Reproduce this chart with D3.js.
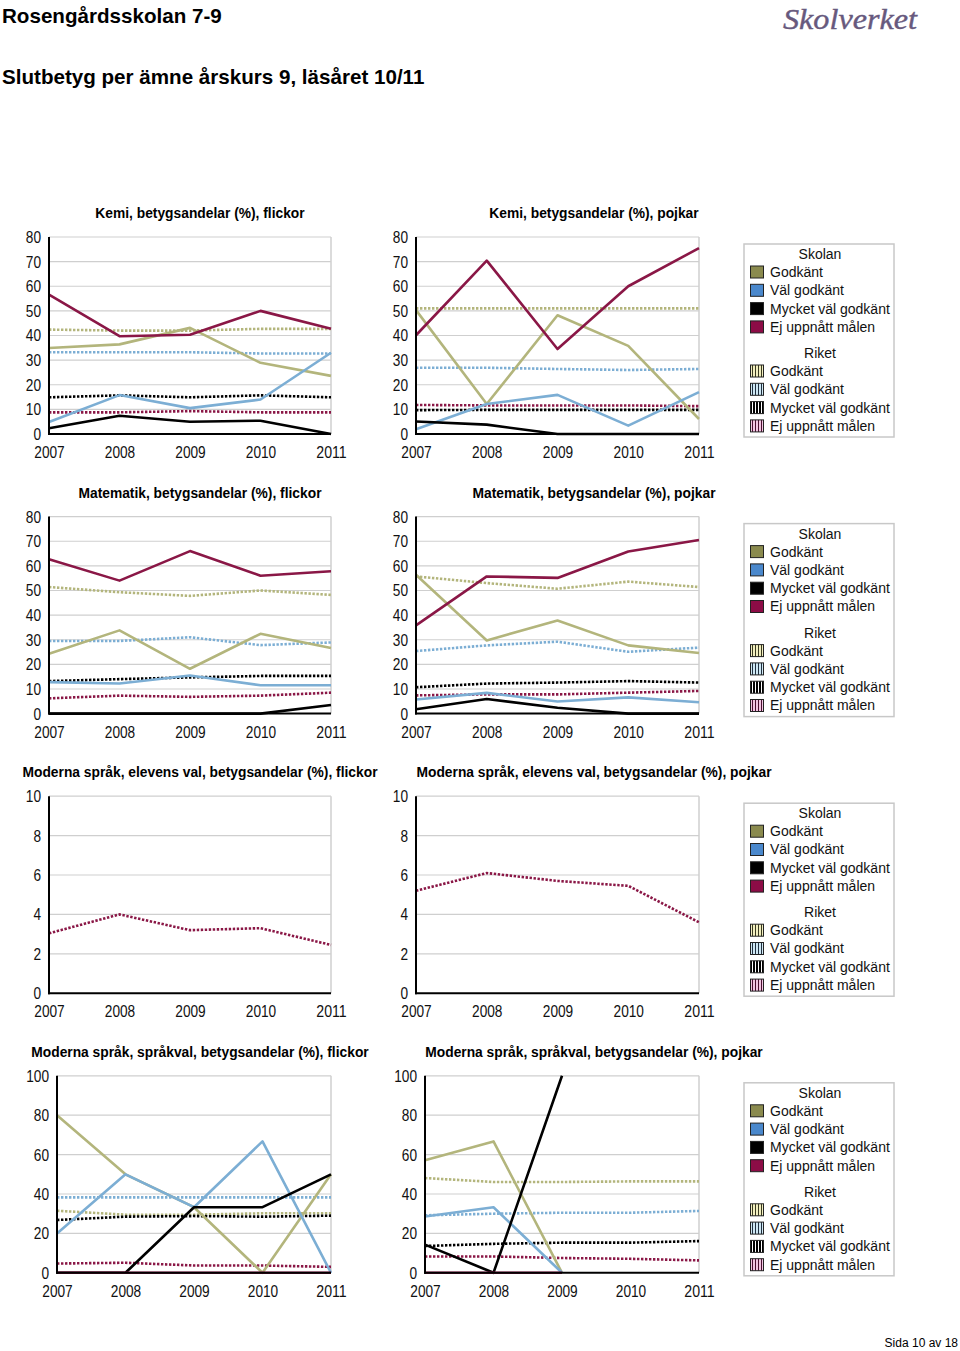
<!DOCTYPE html>
<html><head><meta charset="utf-8">
<script src="https://cdn.jsdelivr.net/npm/d3@7"></script>
<style>body{margin:0;background:#fff} svg{display:block}</style>
</head><body>
<svg id="c" width="960" height="1351"></svg>
<script>
const years = [2007, 2008, 2009, 2010, 2011];
const gradeNames = ["Godkänt", "Väl godkänt", "Mycket väl godkänt", "Ej uppnått målen"];
const chartTitles = [
  "Kemi, betygsandelar (%), flickor",
  "Kemi, betygsandelar (%), pojkar",
  "Matematik, betygsandelar (%), flickor",
  "Matematik, betygsandelar (%), pojkar",
  "Moderna språk, elevens val, betygsandelar (%), flickor",
  "Moderna språk, elevens val, betygsandelar (%), pojkar",
  "Moderna språk, språkval, betygsandelar (%), flickor",
  "Moderna språk, språkval, betygsandelar (%), pojkar"
];
const yMaxes = [80, 80, 80, 80, 10, 10, 100, 100];
const yTickSteps = [10, 10, 10, 10, 2, 2, 20, 20];

// rows: Godkänt, Väl godkänt, Mycket väl godkänt, Ej uppnått målen
const kemiFlickorSkolan = [
  [34.9, 36.4, 43.1, 28.9, 23.6],
  [4.9, 15.8, 10.5, 14.0, 33.0],
  [2.3, 7.4, 5.0, 5.4, 0],
  [56.6, 39.7, 40.3, 50.0, 42.7]];
const kemiFlickorRiket = [
  [42.4, 42.0, 42.0, 42.7, 42.7],
  [33.2, 33.2, 33.2, 32.7, 32.7],
  [14.9, 15.7, 14.9, 15.7, 14.9],
  [8.8, 8.8, 9.3, 8.8, 8.8]];
const kemiPojkarSkolan = [
  [50.3, 12.2, 48.2, 35.8, 6.1],
  [1.9, 12.2, 15.9, 3.4, 17.0],
  [5.1, 3.8, 0, 0, 0],
  [40.1, 70.4, 34.5, 60.0, 75.5]];
const kemiPojkarRiket = [
  [51.0, 51.0, 51.0, 51.0, 51.0],
  [26.9, 26.9, 26.4, 26.0, 26.4],
  [9.7, 9.8, 9.8, 9.8, 9.8],
  [11.8, 11.6, 11.6, 11.6, 11.3]];
const matteFlickorSkolan = [
  [24.3, 33.8, 18.2, 32.4, 26.6],
  [12.8, 12.2, 15.5, 11.5, 11.5],
  [0, 0, 0, 0, 3.5],
  [62.7, 54.0, 66.0, 56.0, 57.8]];
const matteFlickorRiket = [
  [51.4, 49.3, 47.8, 50.0, 48.2],
  [29.5, 29.5, 31.0, 27.8, 28.9],
  [13.2, 14.0, 14.7, 15.3, 15.3],
  [6.2, 7.3, 6.8, 7.3, 8.5]];
const mattePojkarSkolan = [
  [56.4, 29.7, 37.8, 27.7, 24.6],
  [5.7, 8.4, 4.9, 6.6, 4.6],
  [1.8, 5.9, 2.4, 0, 0],
  [35.8, 55.7, 55.1, 65.8, 70.5]];
const mattePojkarRiket = [
  [55.7, 53.0, 50.7, 53.6, 51.4],
  [25.4, 27.7, 29.2, 25.1, 26.8],
  [10.7, 12.2, 12.6, 13.2, 12.6],
  [7.4, 7.8, 7.8, 8.5, 9.2]];
const elevensValFlickorSkolan = [
  [null, null, null, null, null],
  [null, null, null, null, null],
  [null, null, null, null, null],
  [null, null, null, null, null]];
const elevensValFlickorRiket = [
  [null, null, null, null, null],
  [null, null, null, null, null],
  [null, null, null, null, null],
  [3.04, 4.0, 3.2, 3.3, 2.45]];
const elevensValPojkarSkolan = [
  [null, null, null, null, null],
  [null, null, null, null, null],
  [null, null, null, null, null],
  [null, null, null, null, null]];
const elevensValPojkarRiket = [
  [null, null, null, null, null],
  [null, null, null, null, null],
  [null, null, null, null, null],
  [5.2, 6.1, 5.7, 5.45, 3.6]];
const sprakvalFlickorSkolan = [
  [80.0, 50.0, 33.3, 0, 50.0],
  [20.0, 50.0, 33.3, 66.7, 0],
  [0, 0, 33.3, 33.3, 50.0],
  [0, 0, 0, 0, 0]];
const sprakvalFlickorRiket = [
  [31.5, 29.5, 29.5, 30.2, 30.2],
  [38.3, 38.3, 38.3, 38.3, 38.3],
  [26.8, 28.5, 28.8, 28.5, 29.0],
  [4.7, 5.1, 3.7, 3.7, 3.0]];
const sprakvalPojkarSkolan = [
  [57.1, 66.7, 0, null, null],
  [28.6, 33.3, 0, null, null],
  [14.3, 0, 100, null, null],
  [0, 0, 0, null, null]];
const sprakvalPojkarRiket = [
  [48.1, 46.1, 46.1, 46.4, 46.4],
  [29.2, 30.0, 30.5, 30.5, 31.4],
  [13.6, 14.7, 15.3, 15.3, 16.1],
  [8.3, 8.3, 7.5, 7.1, 6.3]];

const skolanData = [kemiFlickorSkolan, kemiPojkarSkolan, matteFlickorSkolan, mattePojkarSkolan,
  elevensValFlickorSkolan, elevensValPojkarSkolan, sprakvalFlickorSkolan, sprakvalPojkarSkolan];
const riketData = [kemiFlickorRiket, kemiPojkarRiket, matteFlickorRiket, mattePojkarRiket,
  elevensValFlickorRiket, elevensValPojkarRiket, sprakvalFlickorRiket, sprakvalPojkarRiket];

const lineColors = ["#b3b57c", "#7caed4", "#000000", "#8a1746"];
const swatchColors = ["#8a8a4e", "#4a88cc", "#000000", "#8c0c46"];
const stripeBg = ["#f2efc0", "#cfe8f4", "#000000", "#f2c6e2"];
const stripeFg = ["#3a3a20", "#203040", "#ffffff", "#4a1030"];

const svg = d3.select("#c");
const textFont = "'Liberation Sans', Arial, Helvetica, sans-serif";

// header
svg.append("text").attr("x", 2).attr("y", 23).attr("font-family", textFont)
  .attr("font-weight", "bold").attr("font-size", 20.6).attr("fill", "#000")
  .text("Rosengårdsskolan 7-9");
svg.append("text").attr("x", 2).attr("y", 84).attr("font-family", textFont)
  .attr("font-weight", "bold").attr("font-size", 20.6).attr("fill", "#000")
  .text("Slutbetyg per ämne årskurs 9, läsåret 10/11");
svg.append("text").attr("x", 783).attr("y", 29).attr("font-family", "'Liberation Serif', 'Times New Roman', serif")
  .attr("font-style", "italic").attr("font-size", 30).attr("fill", "#67597d")
  .attr("stroke", "#67597d").attr("stroke-width", 0.4)
  .attr("textLength", 134).attr("lengthAdjust", "spacingAndGlyphs")
  .text("Skolverket");
svg.append("text").attr("x", 958).attr("y", 1347).attr("text-anchor", "end")
  .attr("font-family", textFont).attr("font-size", 12).attr("fill", "#000")
  .text("Sida 10 av 18");

// stripe patterns
const defs = svg.append("defs");
stripeBg.forEach((bg, i) => {
  const p = defs.append("pattern").attr("id", "stripe" + i).attr("patternUnits", "userSpaceOnUse")
    .attr("width", 3).attr("height", 3);
  p.append("rect").attr("width", 3).attr("height", 3).attr("fill", bg);
  p.append("rect").attr("x", 2).attr("width", 1).attr("height", 3).attr("fill", stripeFg[i]);
});

const rowTop = 237, rowGap = 279.6, plotH = 197;

function styleTicks(sel) {
  sel.selectAll("text")
    .attr("font-family", textFont).attr("font-size", 17).attr("fill", "#111")
    .each(function () {
      const n = this.textContent.length;
      d3.select(this).attr("textLength", n * 7.6).attr("lengthAdjust", "spacingAndGlyphs");
    });
}

chartTitles.forEach((title, ci) => {
  const row = Math.floor(ci / 2), col = ci % 2;
  const top = rowTop + row * rowGap, bottom = top + plotH;
  const wide = yMaxes[ci] >= 100;
  const x0 = col === 0 ? (wide ? 57 : 49) : (wide ? 425 : 416);
  const x1 = col === 0 ? 331 : 699;
  const titleX = col === 0 ? 200 : 594;

  const x = d3.scaleLinear().domain([years[0], years[years.length - 1]]).range([x0, x1]);
  const y = d3.scaleLinear().domain([0, yMaxes[ci]]).range([bottom, top]);
  const yTicks = d3.range(0, yMaxes[ci] + 0.001, yTickSteps[ci]);

  const g = svg.append("g");
  g.append("text").attr("x", titleX).attr("y", top - 19).attr("text-anchor", "middle")
    .attr("font-family", textFont).attr("font-weight", "bold").attr("font-size", 13.8)
    .attr("fill", "#000").text(title);

  // grid
  g.append("g").selectAll("line").data(yTicks.slice(1)).join("line")
    .attr("x1", x0).attr("x2", x1).attr("y1", d => y(d)).attr("y2", d => y(d))
    .attr("stroke", "#cfcfcf").attr("stroke-width", 1.2);
  g.append("line").attr("x1", x1).attr("x2", x1).attr("y1", top).attr("y2", bottom)
    .attr("stroke", "#cfcfcf").attr("stroke-width", 1.5);

  const line = d3.line().defined(d => d != null).x((d, i) => x(years[i])).y(d => y(d));
  const clipId = "clip" + ci;
  defs.append("clipPath").attr("id", clipId).append("rect")
    .attr("x", x0 - 3).attr("y", top - 1).attr("width", x1 - x0 + 6).attr("height", plotH + 4);
  const lines = g.append("g").attr("clip-path", `url(#${clipId})`);
  riketData[ci].forEach((vals, si) => {
    lines.append("path").datum(vals).attr("d", line).attr("fill", "none")
      .attr("stroke", lineColors[si]).attr("stroke-width", 2.6)
      .attr("stroke-dasharray", "2.4,1.6");
  });
  skolanData[ci].forEach((vals, si) => {
    lines.append("path").datum(vals).attr("d", line).attr("fill", "none")
      .attr("stroke", lineColors[si]).attr("stroke-width", 2.6)
      .attr("stroke-linejoin", "round");
  });

  // axes
  const ya = g.append("g").attr("transform", `translate(${x0},0)`)
    .call(d3.axisLeft(y).tickValues(yTicks).tickSize(0).tickPadding(8).tickFormat(d3.format("d")));
  ya.select(".domain").remove();
  styleTicks(ya);
  const xa = g.append("g").attr("transform", `translate(0,${bottom})`)
    .call(d3.axisBottom(x).tickValues(years).tickSize(0).tickPadding(12).tickFormat(d3.format("d")));
  xa.select(".domain").remove();
  styleTicks(xa);
  g.append("line").attr("x1", x0).attr("x2", x0).attr("y1", top).attr("y2", bottom + 1)
    .attr("stroke", "#000").attr("stroke-width", 2);
  g.append("line").attr("x1", x0 - 1).attr("x2", x1).attr("y1", bottom).attr("y2", bottom)
    .attr("stroke", "#000").attr("stroke-width", 2);

  // legend
  if (col === 1) {
    const lx = 744, ly = top + 7;
    const lg = svg.append("g").attr("transform", `translate(${lx},${ly})`);
    lg.append("rect").attr("x", 0).attr("y", 0).attr("width", 150).attr("height", 193)
      .attr("fill", "#fff").attr("stroke", "#c8c8c8").attr("stroke-width", 1.5);
    const groups = [{name: "Skolan", y: 10, fills: swatchColors.map(c => c)},
                    {name: "Riket", y: 109, fills: stripeBg.map((c, i) => `url(#stripe${i})`)}];
    groups.forEach(grp => {
      lg.append("text").attr("x", 76).attr("y", grp.y + 5).attr("text-anchor", "middle")
        .attr("font-family", textFont).attr("font-size", 14).attr("fill", "#111").text(grp.name);
      gradeNames.forEach((nm, i) => {
        const cy = grp.y + 18 + i * 18.3;
        lg.append("rect").attr("x", 6.5).attr("y", cy - 6).attr("width", 13).attr("height", 12)
          .attr("fill", grp.fills[i]).attr("stroke", "#222").attr("stroke-width", 1);
        lg.append("text").attr("x", 26).attr("y", cy + 5).attr("font-family", textFont)
          .attr("font-size", 14).attr("fill", "#111").text(nm);
      });
    });
  }
});
</script>
</body></html>
